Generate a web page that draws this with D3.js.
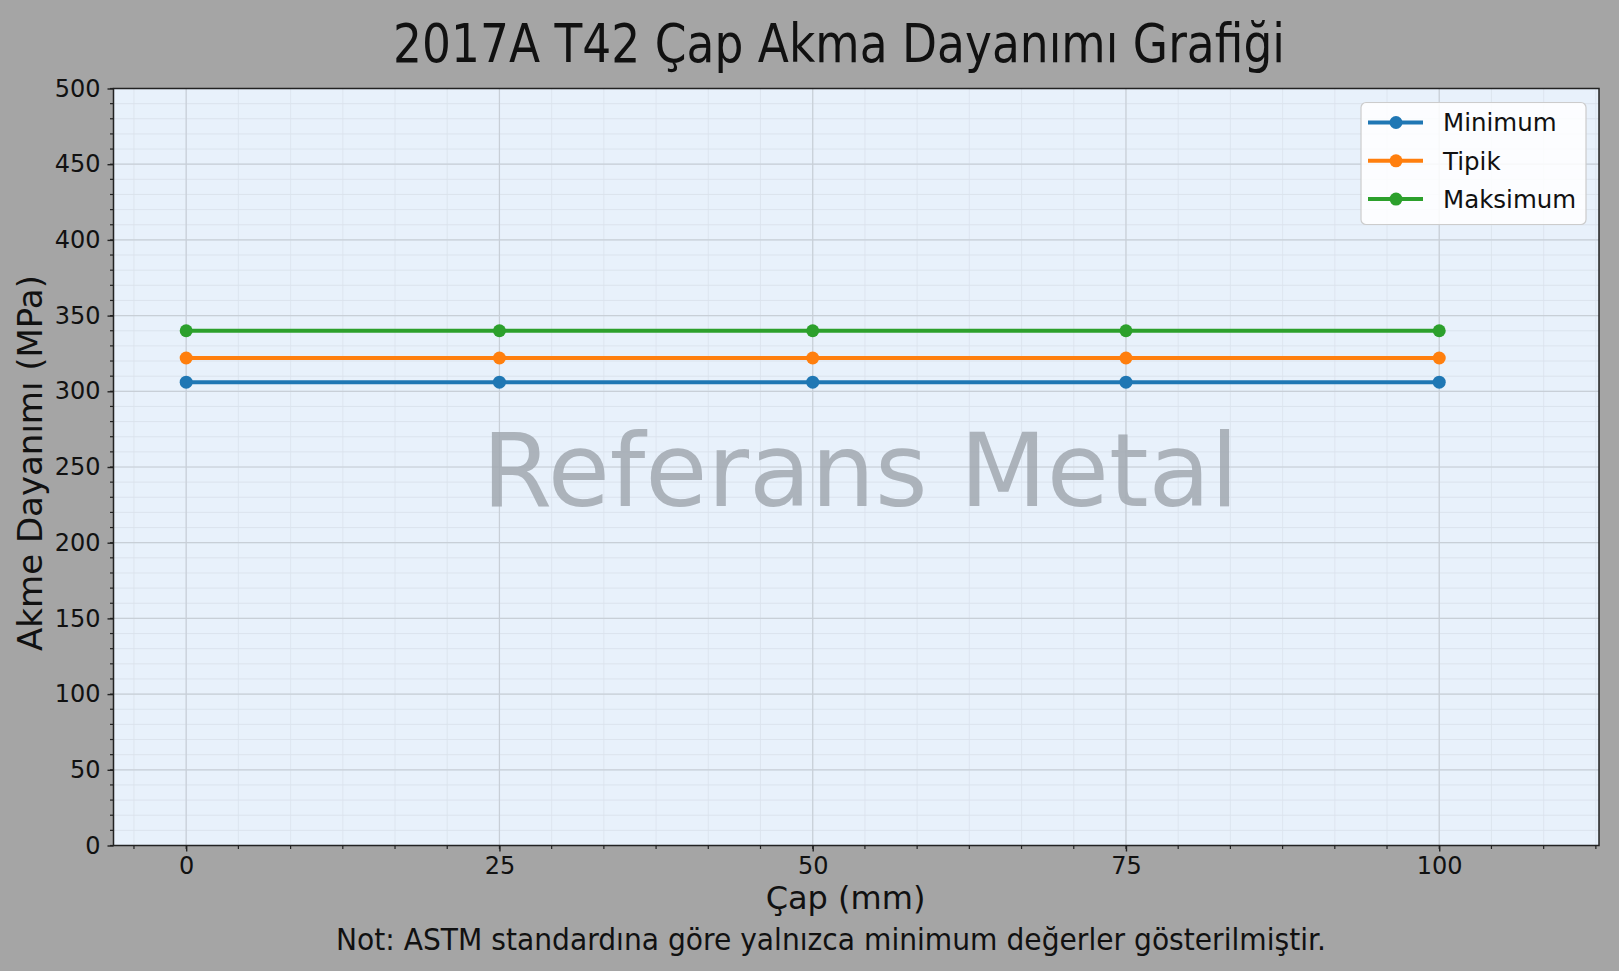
<!DOCTYPE html>
<html>
<head>
<meta charset="utf-8">
<script src="https://cdn.jsdelivr.net/npm/d3@7"></script>
<style>
  html, body { margin: 0; padding: 0; background: #a5a5a5; }
  text { font-family: "DejaVu Sans", sans-serif; fill: #111; }
</style>
</head>
<body>
<div id="chart"></div>
<script>
// Chart data
const diameters = [0, 25, 50, 75, 100];
const minValues = [306, 306, 306, 306, 306];
const typValues = [322, 322, 322, 322, 322];
const maxValues = [340, 340, 340, 340, 340];
const seriesNames = ['Minimum', 'Tipik', 'Maksimum'];
const seriesColors = ['#1f77b4', '#ff7f0e', '#2ca02c'];
const xTicks = [0, 25, 50, 75, 100];
const yTicks = [0, 50, 100, 150, 200, 250, 300, 350, 400, 450, 500];

const titleText = '2017A T42 Çap Akma Dayanımı Grafiği';
const xLabel = 'Çap (mm)';
const yLabel = 'Akme Dayanımı (MPa)';
const noteText = 'Not: ASTM standardına göre yalnızca minimum değerler gösterilmiştir.';
const watermark = 'Referans Metal';

const series = [minValues, typValues, maxValues].map((vals, i) => ({
  name: seriesNames[i],
  color: seriesColors[i],
  points: diameters.map((d, j) => ({ x: d, y: vals[j] }))
}));

const width = 1619;
const height = 971;
const margin = { top: 88.5, right: 20, bottom: 125.5, left: 113.5 };
const innerWidth = width - margin.left - margin.right;
const innerHeight = height - margin.top - margin.bottom;

const svg = d3.select('#chart')
  .append('svg')
  .attr('width', width)
  .attr('height', height);

svg.append('rect')
  .attr('width', width)
  .attr('height', height)
  .attr('fill', '#a5a5a5');

const g = svg.append('g')
  .attr('transform', `translate(${margin.left},${margin.top})`);

// Scales
const xScale = d3.scaleLinear().domain([-5.8, 112.75]).range([0, innerWidth]);
const yScale = d3.scaleLinear().domain([0, 500]).range([innerHeight, 0]);

// minor ticks: 6 steps per major x step, 10 MPa on y
const xMinor = d3.range(-25 / 6, 113, 25 / 6).filter(v => v >= -5.8 && v <= 112.75);
const yMinor = d3.range(0, 501, 10);

// Plot background
g.append('rect')
  .attr('width', innerWidth)
  .attr('height', innerHeight)
  .attr('fill', '#e8f1fb');

// Minor grid
g.append('g').selectAll('line')
  .data(yMinor)
  .join('line')
  .attr('x1', 0).attr('x2', innerWidth)
  .attr('y1', d => yScale(d)).attr('y2', d => yScale(d))
  .attr('stroke', '#d8e0ea').attr('stroke-width', 0.8);

g.append('g').selectAll('line')
  .data(xMinor)
  .join('line')
  .attr('y1', 0).attr('y2', innerHeight)
  .attr('x1', d => xScale(d)).attr('x2', d => xScale(d))
  .attr('stroke', '#dae2ec').attr('stroke-width', 0.8);

// Major grid
g.append('g').selectAll('line')
  .data(yTicks)
  .join('line')
  .attr('x1', 0).attr('x2', innerWidth)
  .attr('y1', d => yScale(d)).attr('y2', d => yScale(d))
  .attr('stroke', '#c8cfd7').attr('stroke-width', 1.2);

g.append('g').selectAll('line')
  .data(xTicks)
  .join('line')
  .attr('y1', 0).attr('y2', innerHeight)
  .attr('x1', d => xScale(d)).attr('x2', d => xScale(d))
  .attr('stroke', '#c8cfd7').attr('stroke-width', 1.2);

// Watermark
g.append('text')
  .attr('x', innerWidth / 2 + 4)
  .attr('y', innerHeight / 2 + 4)
  .attr('text-anchor', 'middle')
  .attr('dominant-baseline', 'central')
  .style('font-size', '101px')
  .style('fill', '#a2a9b1')
  .style('opacity', 0.85)
  .text(watermark);

// Lines and markers
const line = d3.line().x(d => xScale(d.x)).y(d => yScale(d.y));

series.forEach(s => {
  g.append('path')
    .datum(s.points)
    .attr('d', line)
    .attr('fill', 'none')
    .attr('stroke', s.color)
    .attr('stroke-width', 4);

  g.selectAll(null)
    .data(s.points)
    .join('circle')
    .attr('cx', d => xScale(d.x))
    .attr('cy', d => yScale(d.y))
    .attr('r', 6.5)
    .attr('fill', s.color);
});

// Axes
const xAxis = d3.axisBottom(xScale).tickValues(xTicks).tickSize(6).tickPadding(5).tickFormat(d3.format('d'));
const yAxis = d3.axisLeft(yScale).tickValues(yTicks).tickSize(6).tickPadding(7).tickFormat(d3.format('d'));

const xg = g.append('g')
  .attr('transform', `translate(0,${innerHeight})`)
  .call(xAxis);
xg.append('g').selectAll('line')
  .data(xMinor)
  .join('line')
  .attr('x1', d => xScale(d)).attr('x2', d => xScale(d))
  .attr('y1', 0).attr('y2', 3.5)
  .attr('stroke', '#222').attr('stroke-width', 1.2);

const yg = g.append('g').call(yAxis);
yg.append('g').selectAll('line')
  .data(yMinor)
  .join('line')
  .attr('y1', d => yScale(d)).attr('y2', d => yScale(d))
  .attr('x1', 0).attr('x2', -3.5)
  .attr('stroke', '#222').attr('stroke-width', 1.2);

[xg, yg].forEach(ax => {
  ax.select('.domain').remove();
  ax.selectAll('.tick line').attr('stroke', '#222').attr('stroke-width', 1.4);
  ax.selectAll('.tick text')
    .style('font-size', '24px')
    .style('font-family', '"DejaVu Sans", sans-serif')
    .attr('fill', '#111');
});
xg.selectAll('.tick text').attr('dy', '0.71em');

// Frame
g.append('rect')
  .attr('width', innerWidth)
  .attr('height', innerHeight)
  .attr('fill', 'none')
  .attr('stroke', '#222')
  .attr('stroke-width', 1.5);

// Legend
const legend = g.append('g')
  .attr('transform', `translate(${1361 - margin.left},${102.5 - margin.top})`);

legend.append('rect')
  .attr('width', 225)
  .attr('height', 122)
  .attr('rx', 5)
  .attr('fill', '#ffffff')
  .attr('fill-opacity', 0.85)
  .attr('stroke', '#cccccc')
  .attr('stroke-width', 1.2);

series.forEach((s, i) => {
  const row = legend.append('g')
    .attr('transform', `translate(0,${20 + i * 38.3})`);
  row.append('line')
    .attr('x1', 7).attr('x2', 62)
    .attr('stroke', s.color).attr('stroke-width', 4);
  row.append('circle')
    .attr('cx', 35).attr('r', 6.5)
    .attr('fill', s.color);
  row.append('text')
    .attr('x', 82)
    .attr('dy', '0.36em')
    .style('font-size', '24.5px')
    .text(s.name);
});

// Titles and labels
svg.append('text')
  .attr('x', 839)
  .attr('y', 61.5)
  .attr('text-anchor', 'middle')
  .attr('textLength', 892)
  .attr('lengthAdjust', 'spacingAndGlyphs')
  .style('font-size', '54px')
  .text(titleText);

svg.append('text')
  .attr('x', 845.5)
  .attr('y', 909)
  .attr('text-anchor', 'middle')
  .style('font-size', '32px')
  .text(xLabel);

svg.append('text')
  .attr('transform', 'translate(41.5,463) rotate(-90)')
  .attr('text-anchor', 'middle')
  .style('font-size', '34px')
  .text(yLabel);

svg.append('text')
  .attr('x', 831)
  .attr('y', 950)
  .attr('text-anchor', 'middle')
  .attr('textLength', 990)
  .attr('lengthAdjust', 'spacingAndGlyphs')
  .style('font-size', '30px')
  .text(noteText);
</script>
</body>
</html>
